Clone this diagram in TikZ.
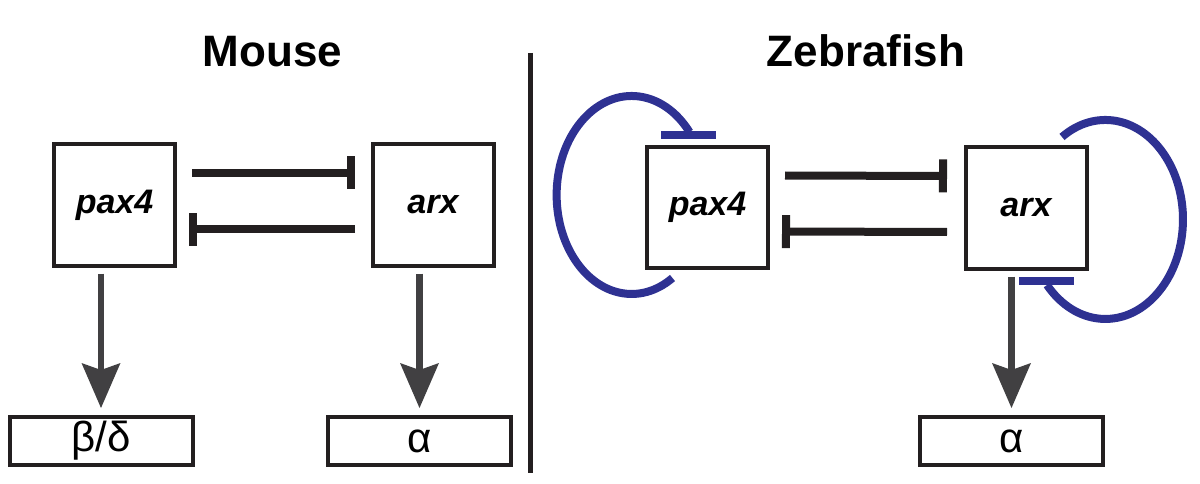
\documentclass[tikz,border=0pt]{standalone}
\usepackage{fontspec}
\setmainfont{Liberation Sans}
\usetikzlibrary{calc,arrows.meta}

\definecolor{loopblue}{RGB}{46,49,146}
\definecolor{inkdark}{RGB}{35,31,32}
\definecolor{arrowgray}{RGB}{65,64,66}

\begin{document}
\begin{tikzpicture}[x=1pt,y=-1pt,line join=miter,
  gene/.style={draw=inkdark,line width=4pt,minimum width=121pt,minimum height=121pt,inner sep=0pt,font=\fontsize{34}{40}\selectfont\bfseries\itshape},
  fate/.style={draw=inkdark,line width=4pt,minimum width=183pt,minimum height=48pt,inner sep=0pt,font=\fontsize{42}{48}\selectfont},
  title/.style={anchor=base,font=\fontsize{44}{50}\selectfont\bfseries},
  inhibit/.style={draw=inkdark,line width=8pt,-{Bar[width=33pt]}},
  drive/.style={draw=arrowgray,line width=6.5pt,shorten <=6pt,shorten >=7pt,-{Stealth[length=45pt,width=39pt,inset=7pt,line width=0pt]}},
  selfloop/.style={draw=loopblue,line width=8pt}]

  \useasboundingbox (0,0) rectangle (1200,484);

  % 1. titles and the divider
  \node[title] (mtitle) at (272.5,67) {Mouse};
  \node[title] (ztitle) at (866,67) {Zebrafish};
  \draw[draw=inkdark,line width=5pt] (530,53) -- (530,473);

  % 2. Mouse: pax4 and arx repress each other
  \node[gene] (mpax) at (114.5,205) {pax4};
  \node[gene] (marx) at (433,205) {arx};
  \node[fate] (mbd) at (101,441) {β/δ};
  \node[fate] (malpha) at (419.5,441) {α};
  \draw[inhibit] ($(mpax.east)+(15,-32)$) -- ($(marx.west)+(-15.5,-32)$);
  \draw[inhibit] ($(marx.west)+(-15.5,24)$) -- ($(mpax.east)+(12,24)$);
  \draw[drive] (mpax.south -| mbd.north) -- (mbd.north);
  \draw[drive] (marx.south -| malpha.north) -- (malpha.north);

  % 3. Zebrafish: same pair, plus a repressing loop on each
  \node[gene] (zpax) at (707.5,207.5) {pax4};
  \node[gene] (zarx) at (1026,208) {arx};
  \node[fate] (zalpha) at (1011.5,441) {α};
  \draw[inhibit] ($(zpax.east)+(15,-32)$) -- ($(zarx.west)+(-16.5,-32)$);
  \draw[inhibit] ($(zarx.west)+(-16.5,24)$) -- ($(zpax.east)+(12,24)$);
  \draw[drive] (zarx.south -| zalpha.north) -- (zalpha.north);

  \coordinate (zpaxbar) at ($(zpax.north)+(-19,-10)$);
  \draw[selfloop] ($(zpaxbar)+(-27.5,0)$) -- ($(zpaxbar)+(27.5,0)$);
  \draw[selfloop] ($(zpaxbar)+(1,-3)$) arc[start angle=-39.5,end angle=-303,x radius=75,y radius=99];

  \coordinate (zarxbar) at ($(zarx.south)+(20.5,10)$);
  \draw[selfloop] ($(zarxbar)+(-27.5,0)$) -- ($(zarxbar)+(27.5,0)$);
  \draw[selfloop] ($(zarxbar)+(0.5,4.5)$) arc[start angle=138.8,end angle=-124,x radius=77.6,y radius=99.5];

\end{tikzpicture}
\end{document}
